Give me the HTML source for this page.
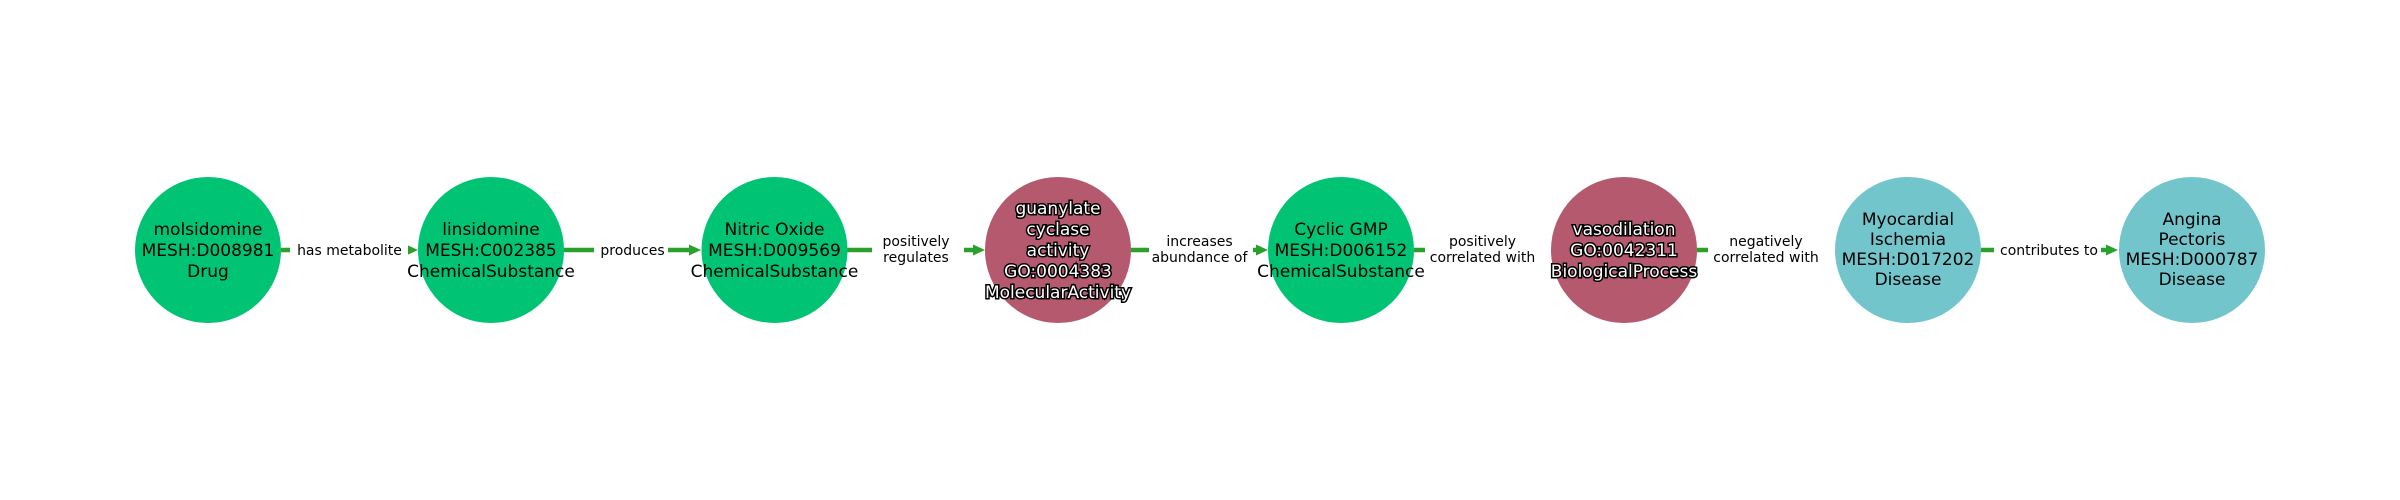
<!DOCTYPE html>
<html><head><meta charset="utf-8"><style>
html,body{margin:0;padding:0;background:#fff;}
svg{display:block;}
text{font-family:"DejaVu Sans","Liberation Sans",sans-serif;}
.n{font-size:17px;fill:#000;text-anchor:middle;}
.w{font-size:17px;fill:#fff;stroke:#000;stroke-width:3px;paint-order:stroke;text-anchor:middle;}
.e{font-size:14px;fill:#000;text-anchor:middle;}
</style></head><body>
<svg width="2400" height="500" viewBox="0 0 2400 500" xmlns="http://www.w3.org/2000/svg">
<g stroke="#2ca02c" stroke-width="4.5">
<line x1="281" y1="250" x2="406" y2="250"/>
<line x1="564" y1="250" x2="689" y2="250"/>
<line x1="847" y1="250" x2="973" y2="250"/>
<line x1="1131" y1="250" x2="1256" y2="250"/>
<line x1="1414" y1="250" x2="1539" y2="250"/>
<line x1="1697" y1="250" x2="1822" y2="250"/>
<line x1="1981" y1="250" x2="2106" y2="250"/>
</g>
<g fill="#2ca02c">
<polygon points="418,250 406,244.5 406,255.5"/>
<polygon points="701,250 689,244.5 689,255.5"/>
<polygon points="985,250 973,244.5 973,255.5"/>
<polygon points="1268,250 1256,244.5 1256,255.5"/>
<polygon points="1551,250 1539,244.5 1539,255.5"/>
<polygon points="1834,250 1822,244.5 1822,255.5"/>
<polygon points="2118,250 2106,244.5 2106,255.5"/>
</g>
<g fill="#fff">
<rect x="290" y="238" width="118" height="24"/>
<rect x="594" y="238" width="74" height="24"/>
<rect x="872" y="228" width="92" height="44"/>
<rect x="1149" y="228" width="104" height="44"/>
<rect x="1425" y="228" width="127" height="44"/>
<rect x="1708" y="228" width="127" height="44"/>
<rect x="1994" y="238" width="107" height="24"/>
</g>
<text class="e" x="349.5" y="255">has metabolite</text>
<text class="e" x="632.5" y="255">produces</text>
<text class="e" x="916" y="246">positively</text>
<text class="e" x="916" y="262">regulates</text>
<text class="e" x="1199.5" y="246">increases</text>
<text class="e" x="1199.5" y="262">abundance of</text>
<text class="e" x="1482.5" y="246">positively</text>
<text class="e" x="1482.5" y="262">correlated with</text>
<text class="e" x="1766" y="246">negatively</text>
<text class="e" x="1766" y="262">correlated with</text>
<text class="e" x="2049" y="255">contributes to</text>

<circle cx="208" cy="250" r="73" fill="#00c473"/>
<circle cx="491" cy="250" r="73" fill="#00c473"/>
<circle cx="774.5" cy="250" r="73" fill="#00c473"/>
<circle cx="1058" cy="250" r="73" fill="#b5596f"/>
<circle cx="1341" cy="250" r="73" fill="#00c473"/>
<circle cx="1624" cy="250" r="73" fill="#b5596f"/>
<circle cx="1908" cy="250" r="73" fill="#72c6cb"/>
<circle cx="2192" cy="250" r="73" fill="#72c6cb"/>

<text class="n" x="208" y="235">molsidomine</text>
<text class="n" x="208" y="256">MESH:D008981</text>
<text class="n" x="208" y="277">Drug</text>
<text class="n" x="491" y="235">linsidomine</text>
<text class="n" x="491" y="256">MESH:C002385</text>
<text class="n" x="491" y="277">ChemicalSubstance</text>
<text class="n" x="774.5" y="235">Nitric Oxide</text>
<text class="n" x="774.5" y="256">MESH:D009569</text>
<text class="n" x="774.5" y="277">ChemicalSubstance</text>
<text class="w" x="1058" y="214">guanylate</text>
<text class="w" x="1058" y="235">cyclase</text>
<text class="w" x="1058" y="256">activity</text>
<text class="w" x="1058" y="277">GO:0004383</text>
<text class="w" x="1058" y="298">MolecularActivity</text>
<text class="n" x="1341" y="235">Cyclic GMP</text>
<text class="n" x="1341" y="256">MESH:D006152</text>
<text class="n" x="1341" y="277">ChemicalSubstance</text>
<text class="w" x="1624" y="235">vasodilation</text>
<text class="w" x="1624" y="256">GO:0042311</text>
<text class="w" x="1624" y="277">BiologicalProcess</text>
<text class="n" x="1908" y="225">Myocardial</text>
<text class="n" x="1908" y="245">Ischemia</text>
<text class="n" x="1908" y="265">MESH:D017202</text>
<text class="n" x="1908" y="285">Disease</text>
<text class="n" x="2192" y="225">Angina</text>
<text class="n" x="2192" y="245">Pectoris</text>
<text class="n" x="2192" y="265">MESH:D000787</text>
<text class="n" x="2192" y="285">Disease</text>
</svg>
</body></html>
